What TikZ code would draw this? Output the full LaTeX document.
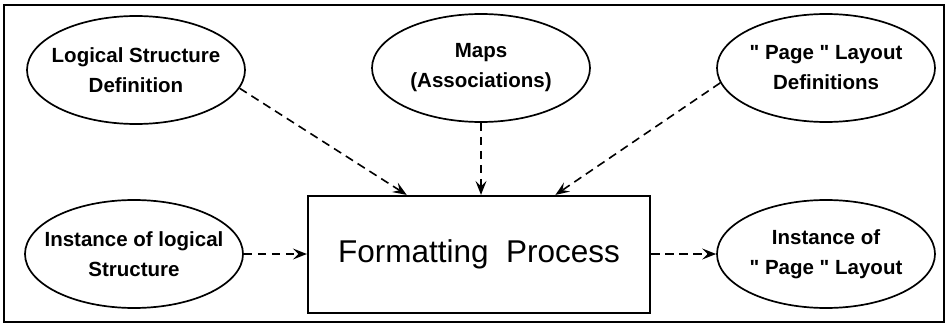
\documentclass[tikz,border=0pt]{standalone}
\usepackage{fontspec}
\setmainfont{Liberation Sans}
\usetikzlibrary{shapes.geometric,arrows.meta,calc}
\begin{document}
\begin{tikzpicture}[x=1pt,y=-1pt,
  oval/.style={draw,ellipse,line width=1.7pt,minimum width=218pt,minimum height=108pt,inner sep=0pt},
  ovaltext/.style={align=center,inner sep=0pt,font=\fontsize{20.5}{30}\selectfont\bfseries},
  proc/.style={draw,line width=2.2pt,minimum width=342pt,minimum height=117pt,inner sep=0pt,font=\fontsize{31.5}{36}\selectfont},
  flow/.style={line width=1.6pt,dash pattern=on 8.5pt off 5.5pt,
    -{Stealth[length=14pt,width=11pt,inset=5.5pt]}}]
  \useasboundingbox (0,0) rectangle (947,326);
  % outer frame
  \draw[line width=1.4pt] (4,5) rectangle (944,322);

  % the process box
  \node[proc] (fp) at (479,254.5) {Formatting\ \ Process};

  % inputs and output
  \node[oval,label={[ovaltext]center:{Logical Structure\\Definition}}] (lsd) at (136,70) {};
  \node[oval,label={[ovaltext]center:{Maps\\(Associations)}}] (maps) at (481,68) {};
  \node[oval,label={[ovaltext]center:{\textquotedbl{} Page \textquotedbl{} Layout\\Definitions}}] (pld) at (826,68) {};
  \node[oval,label={[ovaltext]center:{Instance of logical\\Structure}}] (ils) at (134,254) {};
  \node[oval,label={[ovaltext]center:{Instance of\\\textquotedbl{} Page \textquotedbl{} Layout}}] (ipl) at (826,254) {};

  % dashed flows
  \draw[flow] (lsd.-10) -- ($(fp.north west)!0.29!(fp.north east)$);
  \draw[flow] (maps.south) -- (maps.south |- fp.north);
  \draw[flow] (pld.188) -- ($(fp.north west)!0.722!(fp.north east)$);
  \draw[flow] (ils.east) -- (ils.east -| fp.west);
  \draw[flow] (fp.east |- ipl.west) -- (ipl.west);
\end{tikzpicture}
\end{document}
